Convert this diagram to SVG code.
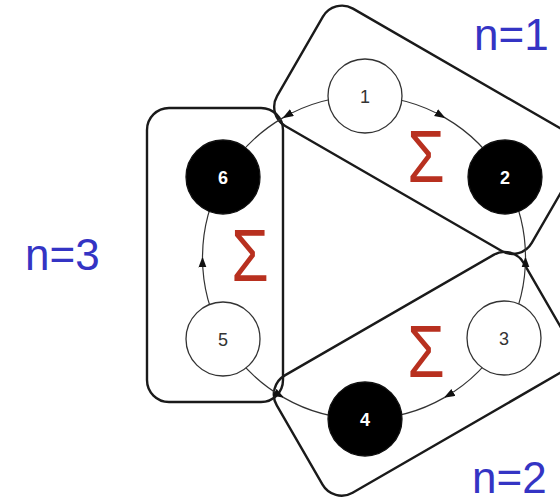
<svg xmlns="http://www.w3.org/2000/svg" width="560" height="503" viewBox="0 0 560 503">
<style>
.box{fill:none;stroke:#1a1a1a;stroke-width:2.4}
.arc{fill:none;stroke:#333;stroke-width:1.2}
.wn{fill:#fff;stroke:#333;stroke-width:1.3}
.bn{fill:#000;stroke:#111;stroke-width:1.3}
.wt{font-family:"Liberation Sans",Arial,sans-serif;font-size:18px;fill:#333;text-anchor:middle}
.bt{font-family:"Liberation Sans",Arial,sans-serif;font-size:18px;font-weight:bold;fill:#fff;text-anchor:middle}
.lbl{font-family:"Liberation Sans",Arial,sans-serif;font-size:44px;fill:#3434c4}
.sig{font-family:"Liberation Sans",Arial,sans-serif;font-size:74px;fill:#b8301f;text-anchor:middle}
</style>
<defs>
<marker id="ah" markerUnits="userSpaceOnUse" markerWidth="12" markerHeight="10" refX="10" refY="4" orient="auto">
<path d="M0,0 L11,4 L0,8 z" fill="#111"/>
</marker>
</defs>
<g id="boxes">
<g id="box-n3"><rect class="box" x="147" y="108" width="136" height="294" rx="22"/></g>
<g id="box-n1"><rect class="box" x="288" y="-169" width="294" height="135.5" rx="22" transform="rotate(30)"/></g>
<g id="box-n2"><rect class="box" x="37" y="467.5" width="285" height="135.5" rx="22" transform="rotate(-30)"/></g>
</g>
<g id="connectors">
<path class="arc" d="M364,96 A161.5,161.5 0 0 1 444.75,117.64" marker-end="url(#ah)"/>
<path class="arc" d="M444.75,117.64 A161.5,161.5 0 0 1 503.86,176.75"/>
<path class="arc" d="M364,96 A161.5,161.5 0 0 0 283.25,117.64" marker-end="url(#ah)"/>
<path class="arc" d="M224.14,176.75 A161.5,161.5 0 0 1 283.25,117.64"/>
<path class="arc" d="M503.86,338.25 A161.5,161.5 0 0 1 444.75,397.36" marker-end="url(#ah)"/>
<path class="arc" d="M444.75,397.36 A161.5,161.5 0 0 1 364,419"/>
<path class="arc" d="M503.86,338.25 A161.5,161.5 0 0 0 525.5,257.5" marker-end="url(#ah)"/>
<path class="arc" d="M503.86,176.75 A161.5,161.5 0 0 1 525.5,257.5"/>
<path class="arc" d="M224.14,338.25 A161.5,161.5 0 0 1 202.5,257.5" marker-end="url(#ah)"/>
<path class="arc" d="M202.5,257.5 A161.5,161.5 0 0 1 224.14,176.75"/>
<path class="arc" d="M224.14,338.25 A161.5,161.5 0 0 0 283.25,397.36" marker-end="url(#ah)"/>
<path class="arc" d="M364,419 A161.5,161.5 0 0 1 283.25,397.36"/>
</g>
<g id="node1"><circle class="wn" cx="365" cy="96" r="37"/><text class="wt" x="365" y="103">1</text></g>
<g id="node2"><circle class="bn" cx="505" cy="177" r="37"/><text class="bt" x="505" y="184">2</text></g>
<g id="node3"><circle class="wn" cx="504" cy="338" r="37"/><text class="wt" x="504" y="345">3</text></g>
<g id="node4"><circle class="bn" cx="365" cy="419" r="37"/><text class="bt" x="365" y="426">4</text></g>
<g id="node5"><circle class="wn" cx="223" cy="339" r="37"/><text class="wt" x="223" y="346">5</text></g>
<g id="node6"><circle class="bn" cx="223" cy="177" r="37"/><text class="bt" x="223" y="184">6</text></g>
<g id="sigmas">
<text class="sig" transform="translate(426,182) scale(0.82,1)">Σ</text>
<text class="sig" transform="translate(426,377) scale(0.82,1)">Σ</text>
<text class="sig" transform="translate(250,281) scale(0.82,1)">Σ</text>
</g>
<g id="labels">
<text class="lbl" x="474" y="50">n=1</text>
<text class="lbl" x="472" y="493">n=2</text>
<text class="lbl" x="25" y="270">n=3</text>
</g>
</svg>
